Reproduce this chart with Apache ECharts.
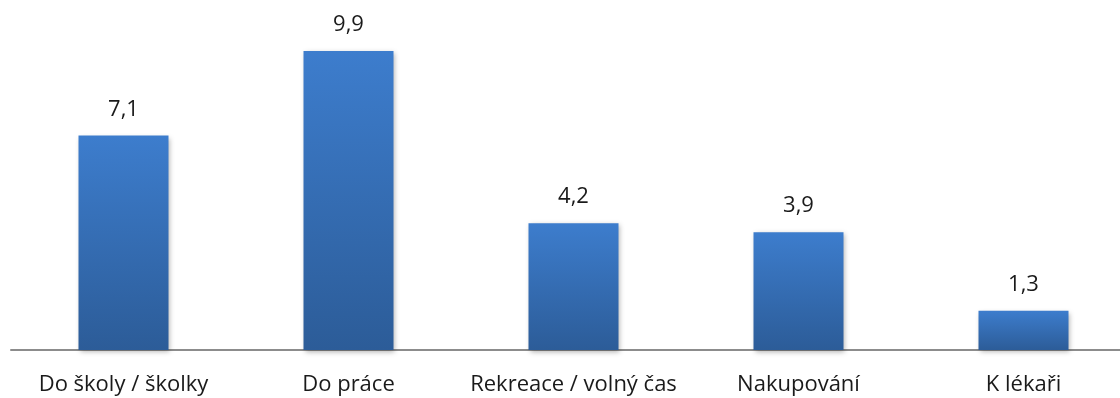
<!DOCTYPE html>
<html>
<head>
<meta charset="utf-8">
<script src="https://cdn.jsdelivr.net/npm/echarts@6/dist/echarts.min.js"></script>
<style>
  html, body { margin: 0; padding: 0; background: #fff; overflow: hidden; }
  #chart { width: 1136px; height: 398px; }
</style>
</head>
<body>
<div id="chart"></div>
<script>
const categories = ["Do školy / školky", "Do práce", "Rekreace / volný čas", "Nakupování", "K lékaři"];
const values = [7.1, 9.9, 4.2, 3.9, 1.3];

const chart = echarts.init(document.getElementById("chart"));

chart.setOption({
  animation: false,
  grid: {
    left: 11,
    right: 0,
    top: 48,
    bottom: 48,
    outerBoundsMode: "none",
  },
  xAxis: {
    type: "category",
    data: categories,
    axisLine: { lineStyle: { color: "#8c8c8c", width: 2 } },
    axisTick: { show: false },
    axisLabel: {
      interval: 0,
      color: "#1a1a1a",
      fontSize: 22,
      fontFamily: "Open Sans",
      margin: 24,
    },
  },
  yAxis: {
    type: "value",
    min: 0,
    max: 10,
    show: false,
    splitLine: { show: false },
  },
  series: [
    {
      type: "bar",
      data: values,
      barWidth: 90,
      itemStyle: {
        color: new echarts.graphic.LinearGradient(0, 0, 0, 1, [
          { offset: 0, color: "#3d7dcd" },
          { offset: 1, color: "#2c5c98" },
        ]),
        shadowColor: "rgba(0,0,0,0.3)",
        shadowBlur: 5,
        shadowOffsetX: 1,
        shadowOffsetY: 2,
      },
      label: {
        show: true,
        position: "top",
        distance: 15,
        color: "#1a1a1a",
        fontSize: 22,
        fontFamily: "Open Sans",
        formatter: (p) => String(p.value).replace(".", ","),
      },
    },
  ],
});
</script>
</body>
</html>
